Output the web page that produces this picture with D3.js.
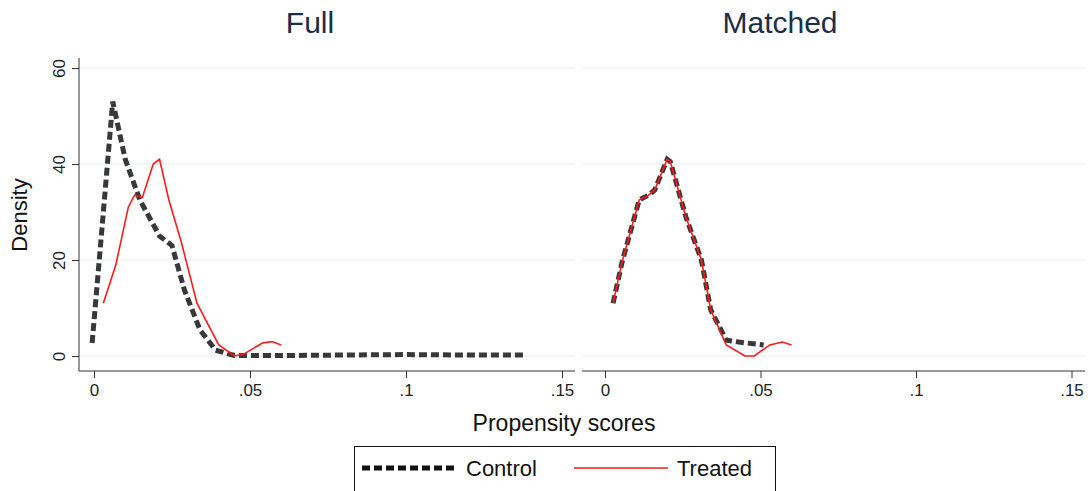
<!DOCTYPE html>
<html>
<head>
<style>
  body { margin: 0; background: white; font-family: "Liberation Sans", Arial, sans-serif; }
</style>
</head>
<body>
<script src="https://cdnjs.cloudflare.com/ajax/libs/d3/7.8.5/d3.min.js"></script>
<script>
const panels = ["Full", "Matched"];
const xTicks = [0, 0.05, 0.1, 0.15];
const xTickLabels = ["0", ".05", ".1", ".15"];
const yTicks = [0, 20, 40, 60];

const fullControlX = [-0.0006, 0.003, 0.006, 0.01, 0.0147, 0.021, 0.025, 0.029, 0.034, 0.039, 0.045, 0.06, 0.08, 0.1, 0.12, 0.138];
const fullControlY = [2.7, 30, 53, 41, 32.5, 25, 23, 13.7, 5.4, 1.2, 0.1, 0.1, 0.2, 0.3, 0.2, 0.2];
const fullTreatedX = [0.003, 0.007, 0.011, 0.013, 0.0155, 0.019, 0.021, 0.024, 0.028, 0.033, 0.04, 0.045, 0.048, 0.054, 0.057, 0.06];
const fullTreatedY = [11, 19, 31, 33.5, 33, 40, 41, 32.5, 23.7, 11, 2.3, 0, 0.4, 2.7, 3, 2.3];
const matchedControlX = [0.0026, 0.0055, 0.011, 0.014, 0.016, 0.02, 0.021, 0.026, 0.031, 0.034, 0.039, 0.043, 0.051];
const matchedControlY = [11, 19.6, 32.5, 33.5, 34.6, 41, 40.5, 29, 20, 9.6, 3.3, 2.9, 2.3];
const matchedTreatedX = [0.0026, 0.0055, 0.011, 0.014, 0.016, 0.02, 0.021, 0.026, 0.031, 0.034, 0.039, 0.045, 0.048, 0.053, 0.057, 0.06];
const matchedTreatedY = [11, 19.6, 32.5, 33.5, 34.6, 41, 40.5, 29, 20, 9.6, 2.3, 0, 0, 2.3, 2.9, 2.3];

const series = [
  [{ x: fullControlX, y: fullControlY }, { x: fullTreatedX, y: fullTreatedY }],
  [{ x: matchedControlX, y: matchedControlY }, { x: matchedTreatedX, y: matchedTreatedY }]
];

const W = 1091, H = 491;
const svg = d3.select("body").append("svg").attr("width", W).attr("height", H);

const y = d3.scaleLinear().domain([0, 60]).range([356, 68]);
const panelLeft = [79, 582];
const zeroPx = [94, 605];
const unitPx = [3120, 3110];
const titleX = [310, 780];

panels.forEach((name, p) => {
  const x = d3.scaleLinear().domain([0, 0.15]).range([zeroPx[p], zeroPx[p] + 0.15 * unitPx[p]]);
  const g = svg.append("g");
  const right = p === 0 ? 575 : 1085;

  g.selectAll(".grid").data(yTicks).enter().append("line")
    .attr("x1", panelLeft[p]).attr("x2", right)
    .attr("y1", d => y(d)).attr("y2", d => y(d))
    .attr("stroke", "#e8eef2").attr("stroke-width", 1);

  g.append("text").attr("x", titleX[p]).attr("y", 33)
    .attr("text-anchor", "middle").attr("font-size", 30).attr("fill", "#1c2d4a").text(name);

  const xa = g.append("g").attr("transform", "translate(0,371)")
    .call(d3.axisBottom(x).tickValues(xTicks).tickFormat((d, i) => xTickLabels[i]).tickSize(7).tickSizeOuter(0));
  xa.select(".domain").attr("d", `M${panelLeft[p]},0H${right}`).attr("stroke", "#333");
  xa.selectAll("line").attr("stroke", "#333");
  xa.selectAll("text").attr("font-size", 17).attr("fill", "#222").attr("dy", "0.9em")
    .attr("font-family", "Liberation Sans, Arial, sans-serif");

  if (p === 0) {
    const ya = g.append("g").attr("transform", `translate(${panelLeft[p]},0)`)
      .call(d3.axisLeft(y).tickValues(yTicks).tickSize(7).tickSizeOuter(0));
    ya.select(".domain").attr("d", "M0,58V371").attr("stroke", "#333");
    ya.selectAll("line").attr("stroke", "#333");
    ya.selectAll("text").attr("font-size", 17).attr("fill", "#222")
      .attr("transform", "rotate(-90)").attr("text-anchor", "middle")
      .attr("x", 0).attr("dy", 0).attr("y", -14)
      .attr("font-family", "Liberation Sans, Arial, sans-serif");
  }

  const line = d3.line().x(d => x(d[0])).y(d => y(d[1]));
  const [ctrl, trt] = series[p];
  g.append("path").datum(ctrl.x.map((v, i) => [v, ctrl.y[i]]))
    .attr("d", line).attr("fill", "none").attr("stroke", "#222").attr("stroke-width", 5)
    .attr("stroke-dasharray", "8,4").attr("opacity", 0.9);
  g.append("path").datum(trt.x.map((v, i) => [v, trt.y[i]]))
    .attr("d", line).attr("fill", "none").attr("stroke", "#ff1a1a").attr("stroke-width", 1.6);
});

svg.append("text").attr("transform", "translate(27,215) rotate(-90)").attr("text-anchor", "middle")
  .attr("font-size", 22).attr("fill", "#111").text("Density");
svg.append("text").attr("x", 564).attr("y", 431).attr("text-anchor", "middle")
  .attr("font-size", 23).attr("fill", "#111").text("Propensity scores");

const lg = svg.append("g");
lg.append("rect").attr("x", 354.5).attr("y", 446.5).attr("width", 421).attr("height", 50)
  .attr("fill", "white").attr("stroke", "#111");
lg.append("line").attr("x1", 362).attr("x2", 457).attr("y1", 468).attr("y2", 468)
  .attr("stroke", "#111").attr("stroke-width", 5).attr("stroke-dasharray", "8,4");
lg.append("text").attr("x", 466).attr("y", 476).attr("font-size", 22).attr("fill", "#111").text("Control");
lg.append("line").attr("x1", 574).attr("x2", 668).attr("y1", 468).attr("y2", 468)
  .attr("stroke", "#ff1a1a").attr("stroke-width", 1.6);
lg.append("text").attr("x", 677).attr("y", 476).attr("font-size", 22).attr("fill", "#111").text("Treated");
</script>
</body>
</html>
